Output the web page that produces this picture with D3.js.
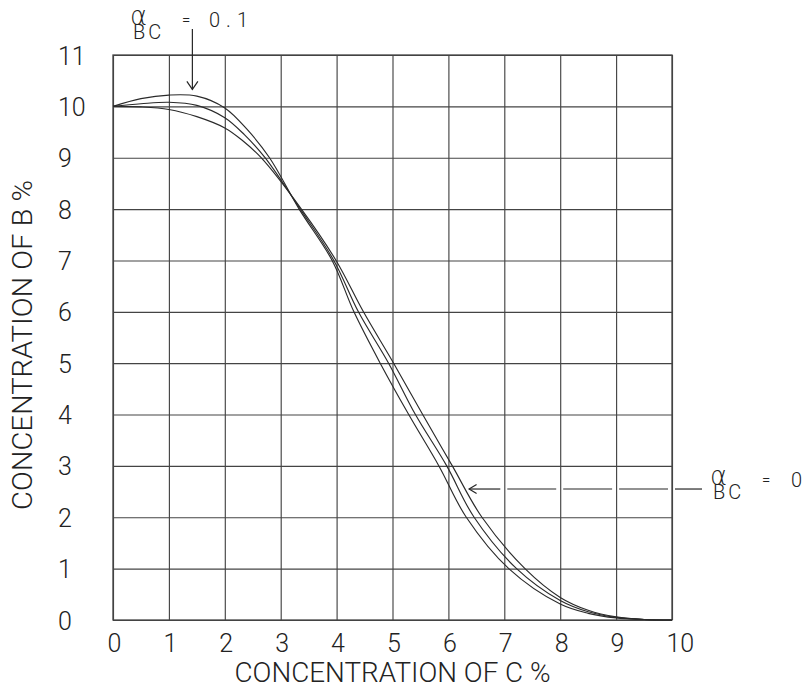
<!DOCTYPE html>
<html>
<head>
<meta charset="utf-8">
<script src="https://cdn.jsdelivr.net/npm/d3@7"></script>
<style>
  html, body { margin: 0; padding: 0; background: #fff; }
  svg { display: block; }
  text { font-family: Roboto, "DejaVu Sans", sans-serif; font-weight: 300; fill: #222; }
</style>
</head>
<body>
<script>
// Concentration of C (x) and concentration of B (y), both in %
const xTicks = [0, 1, 2, 3, 4, 5, 6, 7, 8, 9, 10];
const yTicks = [0, 1, 2, 3, 4, 5, 6, 7, 8, 9, 10, 11];

// alpha_BC = 0.1 : rises above 10 % before falling, steepest drop afterwards
const curveAlpha01 = [
  [0, 10], [0.5, 10.15], [1, 10.22], [1.5, 10.2], [2, 9.97], [2.4, 9.55],
  [2.8, 9.0], [3.33, 8.0], [3.92, 7.0], [4.31, 6.0], [4.78, 5.0], [5.29, 4.0],
  [5.83, 3.0], [6.32, 2.0], [7.08, 1.0], [8, 0.31], [8.5, 0.13], [9, 0.04],
  [9.5, 0.01], [10, 0]
];
// intermediate alpha_BC
const curveAlphaMid = [
  [0, 10], [0.5, 10.05], [1, 10.08], [1.5, 10.02], [2, 9.78], [2.35, 9.45],
  [2.72, 9.0], [3.35, 8.0], [3.95, 7.0], [4.39, 6.0], [4.93, 5.0], [5.41, 4.0],
  [5.97, 3.0], [6.46, 2.0], [7.22, 1.0], [8, 0.38], [8.5, 0.16], [9, 0.05],
  [9.5, 0.01], [10, 0]
];
// alpha_BC = 0 : monotonic decrease from 10 %
const curveAlpha0 = [
  [0, 10], [0.5, 9.99], [1, 9.94], [1.5, 9.8], [2, 9.58], [2.3, 9.35],
  [2.65, 9.0], [3.37, 8.0], [3.99, 7.0], [4.48, 6.0], [5.02, 5.0], [5.54, 4.0],
  [6.07, 3.0], [6.6, 2.0], [7.37, 1.0], [8, 0.44], [8.5, 0.19], [9, 0.06],
  [9.5, 0.01], [10, 0]
];
const curves = [curveAlpha01, curveAlphaMid, curveAlpha0];

const xTitle = "CONCENTRATION OF C %";
const yTitle = "CONCENTRATION OF B %";
const alphaTopValue = "0.1";
const alphaRightValue = "0";

const W = 807, H = 690;
const svg = d3.select("body").append("svg").attr("width", W).attr("height", H);

const x = d3.scaleLinear().domain([0, 10]).range([113, 672]);
const y = d3.scaleLinear().domain([0, 11]).range([620, 55]);
const innerW = x(10) - x(0), innerH = y(0) - y(11);

const gridColor = "#444";
const inkColor = "#262626";

// vertical grid lines + x tick labels
const gx = svg.append("g")
  .attr("transform", `translate(0,${y(0)})`)
  .call(d3.axisBottom(x).tickValues(xTicks).tickSize(-innerH).tickSizeOuter(0).tickFormat(d => d));
gx.select(".domain").remove();
gx.selectAll(".tick line").attr("stroke", gridColor).attr("stroke-width", 1.15);
gx.selectAll(".tick text")
  .attr("dy", null).attr("y", 32).attr("x", -6)
  .attr("text-anchor", "start")
  .attr("font-size", 25).attr("fill", inkColor)
  .style("font-family", "Roboto, 'DejaVu Sans', sans-serif").style("font-weight", 300);

// horizontal grid lines + y tick labels
const gy = svg.append("g")
  .attr("transform", `translate(${x(0)},0)`)
  .call(d3.axisLeft(y).tickValues(yTicks).tickSize(-innerW).tickSizeOuter(0).tickFormat(d => d));
gy.select(".domain").remove();
gy.selectAll(".tick line").attr("stroke", gridColor).attr("stroke-width", 1.15);
gy.selectAll(".tick text")
  .attr("dy", null).attr("y", 9).attr("x", 58 - x(0))
  .attr("text-anchor", "start")
  .attr("font-size", 25).attr("fill", inkColor)
  .style("font-family", "Roboto, 'DejaVu Sans', sans-serif").style("font-weight", 300);

// frame
svg.append("rect")
  .attr("x", x(0)).attr("y", y(11))
  .attr("width", innerW).attr("height", innerH)
  .attr("fill", "none").attr("stroke", gridColor).attr("stroke-width", 1.3);

// the three concentration curves
const line = d3.line()
  .x(d => x(d[0])).y(d => y(d[1]))
  .curve(d3.curveCatmullRom.alpha(0.5));
svg.append("g").selectAll("path")
  .data(curves)
  .join("path")
  .attr("d", line)
  .attr("fill", "none")
  .attr("stroke", "#2a2a2a")
  .attr("stroke-width", 1.15);

// axis titles
svg.append("text")
  .attr("x", (x(0) + x(10)) / 2).attr("y", 682)
  .attr("text-anchor", "middle")
  .attr("font-size", 28)
  .attr("textLength", 316).attr("lengthAdjust", "spacingAndGlyphs")
  .attr("fill", inkColor)
  .text(xTitle);

svg.append("text")
  .attr("transform", `translate(32,${345}) rotate(-90)`)
  .attr("text-anchor", "middle")
  .attr("font-size", 27)
  .attr("textLength", 330).attr("lengthAdjust", "spacingAndGlyphs")
  .attr("fill", inkColor)
  .text(yTitle);

// alpha_BC label: alpha with BC set beneath it as a subscript, then "= value"
function alphaLabel(px, py, value, valueX) {
  const t = svg.append("text").attr("x", px).attr("y", py)
    .attr("font-size", 26).attr("fill", inkColor)
    .style("font-family", "'DejaVu Sans', sans-serif").style("font-weight", 300);
  t.append("tspan").text("α");
  t.append("tspan").attr("x", px + 3).attr("dy", 14)
    .attr("font-size", 20).attr("letter-spacing", 3)
    .style("font-family", "Roboto, 'DejaVu Sans', sans-serif")
    .text("BC");
  svg.append("text").attr("x", px + 52).attr("y", py)
    .attr("font-size", 15).attr("fill", inkColor).text("=");
  svg.append("text").attr("x", valueX).attr("y", py + 2)
    .attr("font-size", 20).attr("letter-spacing", 6).attr("fill", inkColor)
    .text(value);
}

// top annotation with downward arrow onto the alpha = 0.1 curve
alphaLabel(130, 25, alphaTopValue, 209);
const ax = x(1.42), aTop = 29, aTip = y(10.33);
svg.append("line")
  .attr("x1", ax).attr("x2", ax).attr("y1", aTop).attr("y2", aTip)
  .attr("stroke", inkColor).attr("stroke-width", 1.2);
svg.append("path")
  .attr("d", `M${ax - 5.5},${aTip - 8} L${ax},${aTip} L${ax + 5.5},${aTip - 8}`)
  .attr("fill", "none").attr("stroke", inkColor).attr("stroke-width", 1.2);

// right annotation with leftward arrow onto the alpha = 0 curve
const tipX = x(6.37), arrowY = y(2.55), endX = 702;
const breaks = xTicks.filter(t => x(t) > tipX && x(t) < endX).map(t => x(t));
let segStart = tipX;
breaks.forEach(bx => {
  svg.append("line")
    .attr("x1", segStart).attr("x2", bx - 4).attr("y1", arrowY).attr("y2", arrowY)
    .attr("stroke", inkColor).attr("stroke-width", 1.2);
  segStart = bx + 3;
});
svg.append("line")
  .attr("x1", segStart).attr("x2", endX).attr("y1", arrowY).attr("y2", arrowY)
  .attr("stroke", inkColor).attr("stroke-width", 1.2);
svg.append("path")
  .attr("d", `M${tipX + 7.5},${arrowY - 4.5} L${tipX},${arrowY} L${tipX + 7.5},${arrowY + 4.5}`)
  .attr("fill", "none").attr("stroke", inkColor).attr("stroke-width", 1.2);
alphaLabel(710, arrowY - 4, alphaRightValue, 791);
</script>
</body>
</html>
